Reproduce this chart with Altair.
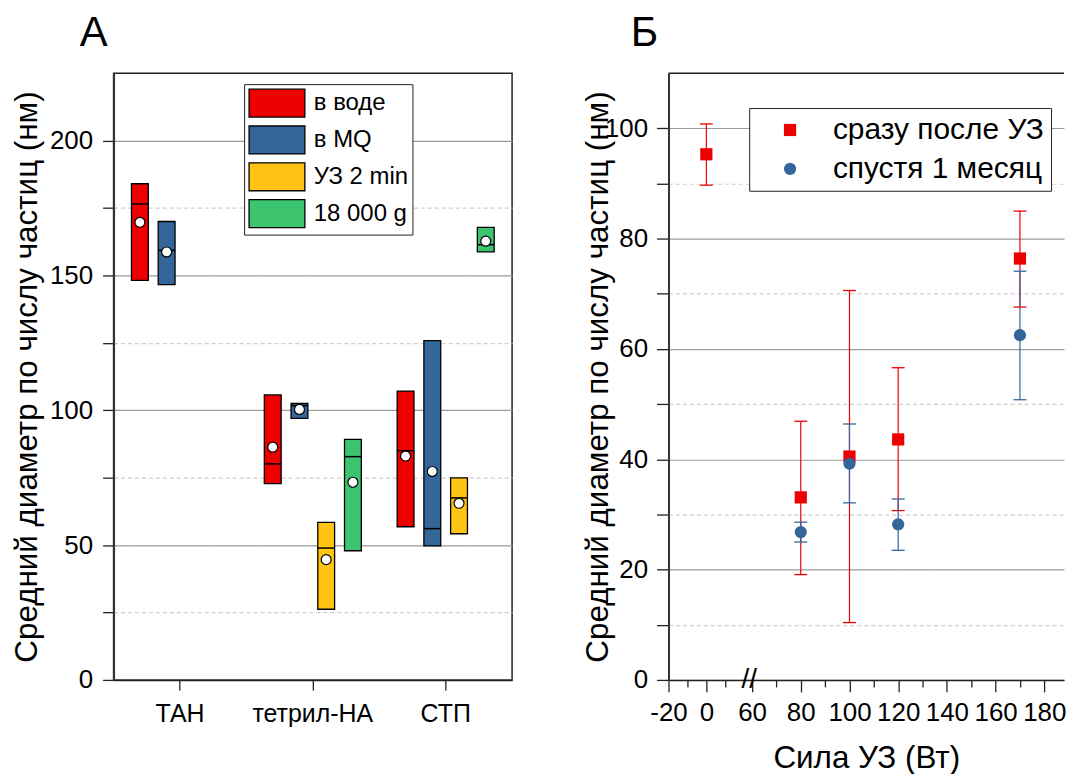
import altair as alt
import pandas as pd

FONT = "Liberation Sans"

# ---------- Panel А: size ranges per substance and treatment ----------
categories = ["ТАН", "тетрил-НА", "СТП"]
series_names = ["в воде", "в MQ", "УЗ 2 min", "18 000 g"]
series_colors = ["#EE0000", "#346699", "#FFC414", "#3DC46F"]

box_category = ["ТАН", "ТАН",
                "тетрил-НА", "тетрил-НА", "тетрил-НА", "тетрил-НА",
                "СТП", "СТП", "СТП", "СТП"]
box_series = ["в воде", "в MQ",
              "в воде", "в MQ", "УЗ 2 min", "18 000 g",
              "в воде", "в MQ", "УЗ 2 min", "18 000 g"]
box_low = [148.2, 146.6, 72.8, 97.0, 26.2, 47.9, 56.8, 49.7, 54.2, 158.7]
box_high = [184.0, 170.0, 105.7, 102.5, 58.4, 89.2, 107.1, 125.8, 74.9, 167.8]
box_median = [176.5, 159.3, 80.1, 101.7, 48.9, 82.8, 85.0, 56.1, 67.5, 161.4]
box_mean = [169.7, 158.7, 86.3, 100.3, 44.6, 73.3, 83.0, 77.3, 65.5, 162.7]

left_ticks = [0, 25, 50, 75, 100, 125, 150, 175, 200]

# ---------- Panel Б: size vs ultrasound power ----------
fresh_label = "сразу после УЗ"
month_label = "спустя 1 месяц"

fresh_power = [0, 80, 100, 120, 170]
fresh_mean = [95.3, 33.1, 40.5, 43.6, 76.4]
fresh_low = [89.7, 19.1, 10.4, 30.7, 67.6]
fresh_high = [100.8, 46.9, 70.6, 56.6, 85.0]

month_power = [80, 100, 120, 170]
month_mean = [26.8, 39.2, 28.2, 62.5]
month_low = [25.0, 32.1, 23.5, 50.8]
month_high = [28.6, 46.4, 32.8, 74.1]

right_xticks = [-20, -10, 0, 10, 60, 70, 80, 90, 100, 110, 120, 130, 140, 150, 160, 170, 180]
right_yticks = [0, 10, 20, 30, 40, 50, 60, 70, 80, 90, 100]
right_xdomain = [-20, 20, 58, 188.1]
right_ymax = 110
axis_break_at = [58]

Y_TITLE = "Средний диаметр по числу частиц (нм)"
RED = "#EE0000"
BLUE = "#346699"
TITLE_SIZE = 31.5
TICK_SIZE = 26

box_df = pd.DataFrame({
    "category": box_category,
    "series": box_series,
    "low": box_low,
    "high": box_high,
    "median": box_median,
    "mean": box_mean,
})

# ---------- Panel А encodings ----------
left_x = alt.X(
    "category:N", sort=categories,
    scale=alt.Scale(domain=categories, paddingInner=0, paddingOuter=0),
    axis=alt.Axis(title=None, labelAngle=0, labelFontSize=25, labelFont=FONT,
                  labelColor="black", tickSize=10, tickColor="#222", tickWidth=1.3,
                  labelPadding=12, domainColor="#222", domainWidth=1.5, grid=False),
)
left_off = alt.XOffset(
    "series:N", sort=series_names,
    scale=alt.Scale(domain=series_names, paddingInner=0.37, paddingOuter=0.67),
)
left_yaxis = alt.Axis(
    values=left_ticks,
    labelExpr="datum.value % 50 === 0 ? datum.label : ''",
    labelFontSize=TICK_SIZE, labelFont=FONT, labelColor="black", labelPadding=10,
    tickSize=11, tickColor="#222", tickWidth=1.3,
    domainColor="#333", domainWidth=2,
    grid=True,
    gridDash={"condition": {"test": "datum.value % 50 === 0", "value": [1, 0]}, "value": [4, 3]},
    gridColor={"condition": {"test": "datum.value % 50 === 0", "value": "#9a9a9a"}, "value": "#cfcfcf"},
    gridWidth=1.2,
    title=Y_TITLE, titleFontSize=TITLE_SIZE, titleFont=FONT, titleFontWeight="normal",
    titleColor="black", titleX=-86, titleBaseline="middle",
)
left_scale_y = alt.Scale(domain=[0, 225], nice=False, zero=False)


def ly(field):
    return alt.Y(field, type="quantitative", scale=left_scale_y, axis=left_yaxis)


left_bars = alt.Chart(box_df).mark_bar(stroke="black", strokeWidth=1.3, opacity=1).encode(
    x=left_x, xOffset=left_off, y=ly("low"), y2=alt.Y2("high"),
    fill=alt.Fill(
        "series:N",
        scale=alt.Scale(domain=series_names, range=series_colors),
        legend=alt.Legend(
            title=None, orient="none", legendX=131, legendY=11,
            symbolType="M-2,-1H2V1H-2Z", symbolSize=784, symbolOffset=14,
            symbolStrokeColor="black", symbolStrokeWidth=1.3, symbolOpacity=1,
            labelFontSize=24, labelFont=FONT, labelColor="black", labelOffset=22,
            labelLimit=300,
            strokeColor="#222", fillColor="white", padding=4, rowPadding=3,
        ),
    ),
)
left_median = alt.Chart(box_df).mark_tick(color="black", thickness=1.5, size=17, opacity=1).encode(
    x=left_x, xOffset=left_off, y=ly("median"),
)
left_mean = alt.Chart(box_df).mark_point(
    filled=True, fill="white", stroke="black", strokeWidth=1.2, size=100, opacity=1
).encode(x=left_x, xOffset=left_off, y=ly("mean"))

left = alt.layer(left_bars, left_median, left_mean).properties(
    width=400, height=609,
    view=alt.ViewBackground(stroke="#222", strokeWidth=1.5),
    title=alt.TitleParams("А", anchor="start", frame="group", fontSize=42, font=FONT,
                          fontWeight="normal", color="black", dx=-34, offset=18),
)

# ---------- Panel Б encodings ----------
right_scale_x = alt.Scale(type="linear", domain=right_xdomain,
                          range=[0, 76, 79, 397], nice=False, zero=False)
major_x = "(datum.value === -20 || datum.value === 0 || (datum.value >= 60 && datum.value % 20 === 0))"
right_xaxis = alt.Axis(
    values=right_xticks,
    labelExpr=major_x + " ? replace(datum.label, '\u2212', '-') : ''",
    labelFontSize=TICK_SIZE, labelFont=FONT, labelColor="black", labelPadding=8,
    labelFlush=False, labelOverlap=False,
    tickSize={"condition": {"test": major_x, "value": 12}, "value": 7},
    tickColor="#222", tickWidth=1.3, domainColor="#222", domainWidth=1.5, grid=False,
    title="Сила УЗ (Вт)", titleFontSize=TITLE_SIZE, titleFont=FONT, titleFontWeight="normal",
    titleColor="black", titlePadding=17,
)
right_scale_y = alt.Scale(domain=[0, right_ymax], nice=False, zero=False)
right_yaxis = alt.Axis(
    values=right_yticks,
    labelExpr="datum.value % 20 === 0 ? datum.label : ''",
    labelFontSize=TICK_SIZE, labelFont=FONT, labelColor="black", labelPadding=9,
    tickSize=12, tickColor="#222", tickWidth=1.3,
    domainColor="#333", domainWidth=2,
    grid=True,
    gridDash={"condition": {"test": "datum.value % 20 === 0", "value": [1, 0]}, "value": [4, 3]},
    gridColor={"condition": {"test": "datum.value % 20 === 0", "value": "#9a9a9a"}, "value": "#cfcfcf"},
    gridWidth=1.2,
    title=Y_TITLE, titleFontSize=TITLE_SIZE, titleFont=FONT, titleFontWeight="normal",
    titleColor="black", titleX=-70, titleBaseline="middle",
)


def rx(field):
    return alt.X(field, type="quantitative", scale=right_scale_x, axis=right_xaxis)


def ry(field):
    return alt.Y(field, type="quantitative", scale=right_scale_y, axis=right_yaxis)


fresh_df = pd.DataFrame({"power": fresh_power, "mean": fresh_mean,
                         "low": fresh_low, "high": fresh_high})
month_df = pd.DataFrame({"power": month_power, "mean": month_mean,
                         "low": month_low, "high": month_high})
points_df = pd.concat([
    fresh_df.assign(series=fresh_label),
    month_df.assign(series=month_label),
], ignore_index=True)
break_df = pd.DataFrame({"x": axis_break_at, "y": [0]})
frame_df = pd.DataFrame({"x0": [right_xdomain[0]], "x1": [right_xdomain[-1]], "y": [right_ymax]})


def error_layers(df, color):
    stem = alt.Chart(df).mark_rule(color=color, strokeWidth=1.2).encode(
        x=rx("power"), y=ry("low"), y2=alt.Y2("high"))
    cap_hi = alt.Chart(df).mark_tick(color=color, thickness=1.3, size=13,
                                     orient="horizontal", opacity=1).encode(
        x=rx("power"), y=ry("high"))
    cap_lo = alt.Chart(df).mark_tick(color=color, thickness=1.3, size=13,
                                     orient="horizontal", opacity=1).encode(
        x=rx("power"), y=ry("low"))
    return [stem, cap_hi, cap_lo]


right_legend = alt.Legend(
    title=None, orient="none", legendX=638, legendY=35,
    symbolSize=150, symbolOpacity=1, symbolOffset=19,
    labelFontSize=30, labelFont=FONT, labelColor="black", labelOffset=28, labelLimit=400,
    strokeColor="#222", fillColor="white", padding=7, rowPadding=9,
)
points = alt.Chart(points_df).mark_point(filled=True, size=150, opacity=1).encode(
    x=rx("power"), y=ry("mean"),
    color=alt.Color("series:N", scale=alt.Scale(domain=[fresh_label, month_label], range=[RED, BLUE]),
                    legend=right_legend),
    shape=alt.Shape("series:N", scale=alt.Scale(domain=[fresh_label, month_label], range=["square", "circle"]),
                    legend=right_legend),
)

# top frame line of the plot area
top_frame = alt.Chart(frame_df).mark_rule(color="#222", strokeWidth=1.5).encode(
    x=rx("x0"), x2=alt.X2("x1"), y=ry("y"))

# "//" marker of the broken x axis
axis_break = alt.Chart(break_df).mark_text(text="//", fontSize=28, font=FONT, color="black",
                                           baseline="middle", align="center", dx=2).encode(
    x=rx("x"), y=ry("y"))

right = alt.layer(
    *error_layers(fresh_df, RED), *error_layers(month_df, BLUE), points, top_frame, axis_break
).properties(
    width=397, height=609,
    view=alt.ViewBackground(stroke="transparent"),
    title=alt.TitleParams("Б", anchor="start", frame="group", fontSize=42, font=FONT,
                          fontWeight="normal", color="black", dx=-38, offset=18),
)

chart = alt.hconcat(left, right, spacing=69).properties(
    padding={"left": 11, "top": 9, "right": 0, "bottom": 5},
    background="white",
)

chart.save("out.html", embed_options={"renderer": "svg", "actions": False})
